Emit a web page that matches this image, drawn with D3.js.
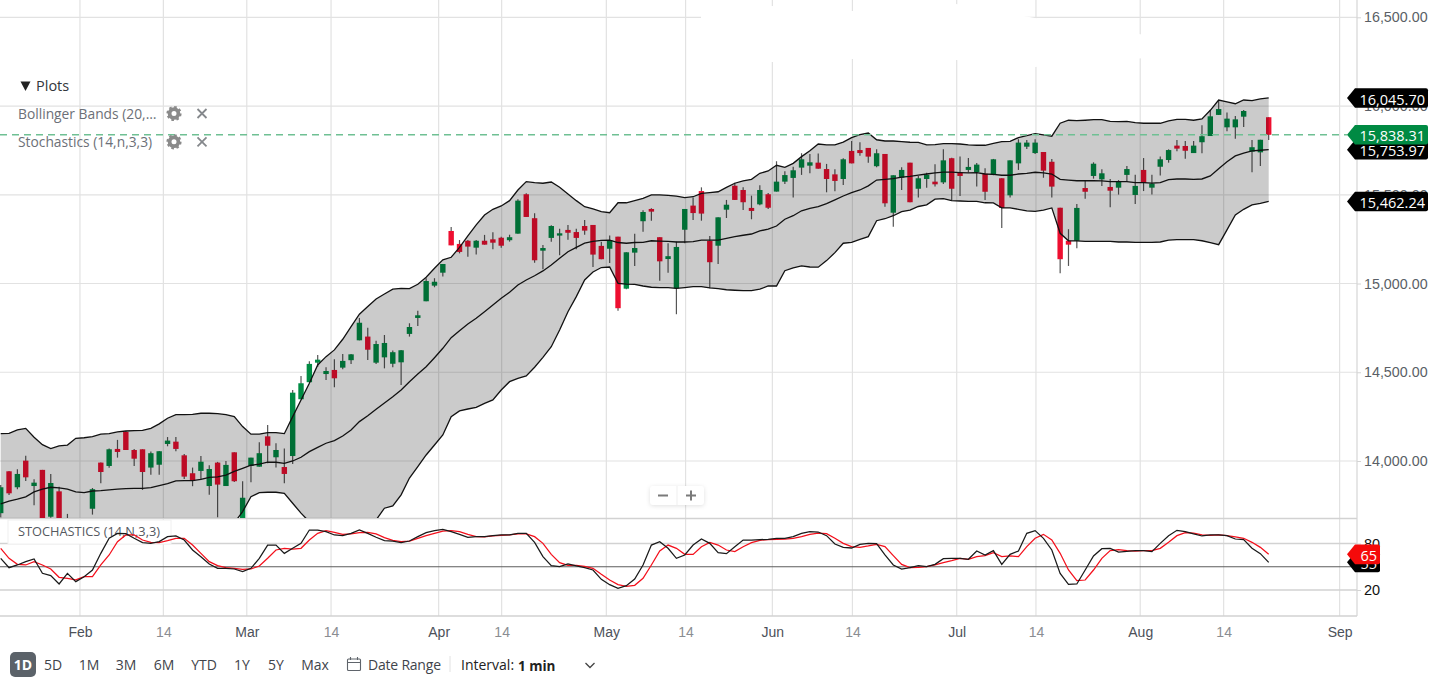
<!DOCTYPE html>
<html>
<head>
<meta charset="utf-8">
<style>
    html, body { margin: 0; padding: 0; background: #fff; overflow: hidden; }
    svg { display: block; font-family: "Open Sans", sans-serif; }
    .grid line { stroke: #e2e2e2; stroke-width: 1.2; }
    .price-axis text { fill: #5a5f66; font-size: 14.3px; }
    .price-axis line { stroke: #d4d4d4; }
    .stoch-axis text { fill: #111; font-size: 14.5px; }
    .stoch-axis line { stroke: #d4d4d4; }
    .date-axis text { font-size: 14px; font-weight: 500; fill: #4c5159; }
    .date-axis text.day { font-weight: 400; fill: #8a8d92; }
    .tool { font-size: 14px; fill: #3f444b; font-weight: 500; }
    .plots { font-size: 13.8px; fill: #6c7077; }
</style>
</head>
<body>
<script src="https://d3js.org/d3.v7.min.js"></script>
<script>

    var opens = [13706,13942,13852,14002,13859,13950,13686,13829,13650,13560,
        13640,13731,13991,13972,14068,14164,14062,14066,13963,13979,
        14096,14109,14032,13931,13944,13859,13991,13859,14049,13668,
        13972,13968,14139,14021,13966,14028,14348,14444,14554,14490,
        14513,14526,14568,14680,14701,14554,14584,14548,14556,14716,
        14806,14900,14988,15061,15296,15223,15241,15202,15241,15249,
        15258,15244,15281,15503,15368,15185,15257,15270,15302,15290,
        15324,15330,15212,15196,15264,14971,15174,15351,15420,15261,
        15138,14973,15303,15439,15521,15240,15213,15416,15551,15527,
        15426,15446,15503,15518,15574,15595,15653,15664,15681,15645,
        15615,15589,15747,15752,15764,15661,15730,15399,15596,15681,
        15534,15589,15574,15570,15706,15625,15640,15628,15619,15613,
        15593,15497,15677,15771,15735,15741,15686,15427,15241,15241,
        15538,15606,15587,15544,15540,15612,15499,15640,15540,15658,
        15696,15777,15775,15735,15796,15831,15950,15880,15880,15940,
        15743,15739,15937];

    var closes = [13852,13818,13927,13908,13878,13640,13876,13611,13600,13630,
        13560,13841,13938,14066,14051,14062,14013,13938,14044,14055,
        14115,14068,13912,13888,13996,13955,13867,13978,13886,13793,
        14019,14044,14086,14062,13927,14385,14438,14547,14571,14507,
        14466,14564,14601,14779,14627,14659,14665,14613,14624,14755,
        14821,15014,15010,15110,15215,15178,15208,15241,15219,15230,
        15213,15261,15467,15375,15131,15200,15324,15283,15286,15257,
        15298,15163,15137,15244,14861,15176,15200,15403,15405,15125,
        15154,15206,15420,15397,15394,15120,15373,15444,15471,15458,
        15409,15527,15427,15574,15611,15638,15700,15683,15647,15589,
        15578,15700,15677,15735,15715,15734,15452,15610,15640,15458,
        15593,15613,15559,15694,15534,15606,15657,15670,15517,15700,
        15426,15694,15794,15794,15794,15636,15546,15137,15219,15426,
        15517,15675,15621,15523,15572,15645,15550,15568,15563,15700,
        15752,15760,15748,15777,15830,15942,15983,15929,15925,15972,
        15768,15810,15838];

    var highs = [13865,13944,13953,14030,13897,13950,13927,13855,13702,13650,
        13660,13848,13991,14070,14119,14169,14068,14066,14053,14057,
        14135,14135,14040,13963,14028,13976,13995,14000,14049,13886,
        14019,14106,14203,14100,14070,14400,14479,14562,14597,14528,
        14573,14603,14603,14806,14751,14678,14710,14622,14626,14776,
        14847,15030,15030,15110,15319,15245,15245,15245,15274,15289,
        15264,15275,15475,15508,15396,15217,15328,15309,15330,15309,
        15358,15330,15236,15270,15264,15176,15281,15413,15424,15261,
        15227,15236,15420,15484,15542,15268,15373,15471,15568,15542,
        15495,15553,15510,15689,15632,15658,15734,15730,15732,15674,
        15644,15706,15803,15796,15764,15756,15730,15610,15655,15681,
        15606,15624,15672,15756,15709,15715,15707,15679,15649,15702,
        15593,15694,15813,15809,15813,15741,15702,15427,15306,15448,
        15583,15683,15644,15589,15583,15662,15613,15707,15613,15715,
        15756,15809,15803,15803,15892,15978,16034,15963,15944,15978,
        15809,15810,15937];

    var lows = [13682,13808,13841,13888,13751,13611,13680,13590,13570,13530,
        13540,13698,13875,13962,14019,14062,13972,13837,13923,13923,
        14083,14055,13899,13858,13897,13810,13683,13859,13882,13640,
        13880,13968,13987,13963,13875,13983,14348,14444,14531,14457,
        14415,14517,14547,14680,14569,14547,14522,14528,14428,14701,
        14761,14900,14979,15039,15215,15170,15151,15163,15219,15193,
        15202,15236,15281,15375,15117,15080,15236,15159,15247,15193,
        15275,15093,15137,15116,14847,14968,15099,15292,15354,15016,
        15061,14827,15227,15358,15354,14973,15110,15369,15471,15414,
        15362,15441,15420,15518,15561,15484,15612,15621,15647,15514,
        15520,15555,15677,15720,15681,15655,15433,15320,15527,15458,
        15484,15540,15546,15561,15471,15493,15625,15546,15471,15610,
        15313,15484,15640,15758,15730,15596,15484,15058,15099,15199,
        15478,15591,15550,15430,15501,15574,15448,15521,15501,15608,
        15681,15745,15703,15735,15734,15831,15950,15858,15816,15882,
        15627,15662,15809];

    var upperBand = [14154,14156,14175,14184,14134,14092,14070,14085,14090,14128,
        14131,14137,14151,14154,14164,14169,14171,14173,14184,14209,
        14241,14261,14261,14263,14269,14269,14267,14261,14250,14194,
        14151,14151,14160,14160,14154,14250,14344,14438,14541,14588,
        14626,14686,14757,14827,14870,14913,14941,14968,14973,14971,
        14996,15035,15086,15133,15148,15204,15268,15330,15386,15418,
        15437,15467,15527,15574,15568,15565,15572,15542,15505,15467,
        15433,15420,15405,15399,15455,15455,15467,15480,15499,15499,
        15497,15493,15484,15489,15508,15512,15517,15542,15565,15578,
        15587,15621,15634,15666,15655,15677,15715,15748,15786,15781,
        15781,15797,15822,15839,15848,15810,15803,15803,15799,15796,
        15795,15781,15783,15788,15788,15786,15781,15779,15779,15790,
        15799,15801,15822,15833,15844,15837,15830,15903,15920,15918,
        15920,15923,15923,15914,15912,15914,15906,15903,15903,15903,
        15916,15925,15925,15920,15927,15976,16034,16023,16013,16034,
        16030,16040,16045.70];

    var midBand = [13759,13774,13785,13798,13826,13842,13852,13848,13841,13826,
        13822,13831,13833,13837,13841,13844,13846,13846,13850,13861,
        13872,13888,13889,13889,13897,13908,13910,13921,13942,13959,
        13976,13982,13993,13993,13987,14000,14021,14053,14077,14100,
        14115,14141,14175,14222,14255,14291,14327,14362,14400,14447,
        14490,14531,14582,14635,14695,14734,14772,14804,14841,14879,
        14917,14951,14992,15020,15044,15071,15104,15142,15179,15204,
        15227,15237,15243,15244,15231,15227,15231,15232,15241,15239,
        15238,15234,15234,15236,15245,15244,15245,15255,15264,15272,
        15279,15296,15307,15324,15362,15382,15410,15424,15433,15450,
        15471,15493,15512,15527,15550,15583,15587,15591,15600,15604,
        15611,15617,15623,15628,15628,15625,15623,15625,15617,15615,
        15610,15610,15617,15621,15627,15623,15617,15587,15583,15579,
        15579,15579,15578,15574,15574,15574,15568,15568,15566,15568,
        15585,15589,15589,15587,15589,15606,15647,15686,15719,15735,
        15747,15751,15753.97];

    var lowerBand = [13364,13392,13392,13409,13516,13595,13634,13611,13589,13521,
        13510,13527,13516,13521,13516,13521,13521,13521,13516,13516,
        13504,13516,13516,13516,13527,13550,13555,13583,13651,13715,
        13799,13822,13824,13824,13818,13762,13706,13658,13614,13611,
        13606,13595,13595,13617,13640,13668,13734,13747,13809,13904,
        13968,14034,14090,14147,14250,14282,14293,14302,14325,14344,
        14400,14447,14466,14479,14528,14584,14644,14738,14841,14926,
        15020,15065,15090,15093,15001,14997,14995,14986,14979,14977,
        14977,14973,14977,14982,14982,14975,14971,14965,14962,14960,
        14960,14968,14986,14986,15072,15088,15099,15093,15092,15129,
        15174,15227,15232,15249,15264,15354,15365,15382,15405,15414,
        15434,15443,15475,15478,15467,15465,15463,15463,15455,15454,
        15426,15426,15418,15409,15407,15414,15426,15283,15241,15240,
        15238,15238,15238,15238,15234,15234,15232,15232,15232,15234,
        15245,15247,15247,15247,15241,15230,15219,15302,15386,15418,
        15443,15452,15462.24];

    var stochK = [60.9,48.8,52.3,56.6,60,41.5,38.5,27.8,41.5,30.8,
        37.2,45.8,67.3,86.7,93.1,92.7,86.7,81.1,80.2,82.4,
        88.8,89.7,84.5,71.6,63,53.6,48,48,47.1,43.7,
        48,60.9,78,78,67.3,73.8,80.2,97.4,97.4,95.3,
        91,90.1,93.1,97.4,93.1,88,83.7,83.2,81.1,83.2,
        88.8,94,96.5,98.3,95.3,91.8,88,88.8,
        88.8,90.1,91,91,93.1,93.1,81.5,63,51.4,50.1,
        53.6,51,48.8,45.8,33.8,26.9,22.2,25.6,34.2,52.3,
        78,82.4,73.8,60.9,65.2,78,85.8,80.2,68.2,66.9,
        75.9,84.5,84.5,85,85.4,86.7,86.7,88.8,93.1,95.3,
        94.8,90.1,79.4,75,74.2,78.9,80.2,79.8,65.2,52.3,
        47.1,48.8,51.4,50.1,53.1,60.4,
        60.9,60.9,59.6,70.3,65.2,70.8,53.1,66,70.3,93.1,
        96.6,86.7,71.6,41.5,27.3,27.8,45.8,63.9,73.3,73.8,
        69,69.9,70.8,70.8,69.5,80.2,90.1,97,95.3,92.3,
        89.7,91,91,90.1,85.8,85,73.8,66.9,55.7];

    var stochD = [73.8,60.9,53.1,52.3,56.6,52.3,47.1,36.4,35.1,33,
        37.2,37.2,52.3,65.2,82.4,91,91,84.5,81.5,81.1,
        83.7,86.7,86.7,78,67.3,56.6,51.4,48.8,48,46.7,
        47.1,51,60.9,71.6,73.8,72.9,73.8,84.5,93.1,96.6,
        94.4,91.8,92.3,94,94.4,92.3,87.5,84.1,82.4,83.2,
        86.7,90.1,93.1,96.1,96.6,95.3,91.8,88.8,
        88.4,89.7,90.5,91,92.3,92.3,88.8,80.2,66,55.3,
        51.8,51.8,50.5,48,40.2,33,26.9,24.7,26,35.1,
        52.3,70.3,78,73.8,66,66,75.9,81.5,78,71.6,
        69.5,75.9,81.1,84.1,85,85.4,85.8,86.7,88.8,91.8,
        93.5,92.7,86.7,80.2,75.9,75,76.8,78.9,75.9,64.3,
        53.1,48.8,49.3,50.1,52.3,55.3,
        57.9,60.9,59.6,63,64.3,68.2,63,63.9,63,75.9,
        86.7,91.8,84.5,67.3,45.8,32,32.9,45.8,60.9,70.8,
        72,70.8,70.3,70.8,70.8,73.8,81.5,90.1,94,93.5,
        91,90.5,91,90.1,88.4,86.7,81.5,75,66];

    // date labels sit between candles, so their place is given in candle units
    var dateLabels = ["Feb","14","Mar","14","Apr","14","May","14","Jun","14","Jul","14","Aug","14","Sep"];
    var dateIndex = [9.5,19.5,29.5,39.6,52.5,60.05,72.6,82.1,92.5,102.1,114.6,124.1,136.6,146.6,160.5];

    var priceTicks = [14000,14500,15000,15500,16000,16500];
    var stochTicks = [20,80];
    var stochEdges = [112.3,-13.5];
    var bandTags = [16045.70,15753.97,15462.24];
    var lastPrice = 15838.31;

    var toolbarRanges = ["5D","1M","3M","6M","YTD","1Y","5Y","Max"];
    var plotNames = ["Bollinger Bands (20,\u2026","Stochastics (14,n,3,3)"];

    var width = 1429,
        height = 678,
        axisX = 1357,
        mainBottom = 518,
        stochBottom = 616,
        candleWidth = 5.4;

    var x = d3.scaleLinear().domain([0,152]).range([0.7,1268.7]);
    var y = d3.scaleLinear().domain([14000,16500]).range([461,17.3]);
    var yStoch = d3.scaleLinear().domain([20,80]).range([590,543.5]);

    var svg = d3.select("body").append("svg")
        .attr("width", width)
        .attr("height", height);

    svg.append("clipPath").attr("id", "main-clip")
      .append("rect").attr("width", axisX).attr("height", mainBottom);

    // gridlines
    var grid = svg.append("g").attr("class", "grid");
    grid.selectAll(".v").data(dateIndex).enter().append("line")
        .attr("x1", function(d) {return x(d)})
        .attr("x2", function(d) {return x(d)})
        .attr("y1", 0)
        .attr("y2", stochBottom);
    grid.selectAll(".h").data(priceTicks).enter().append("line")
        .attr("class", "h")
        .attr("x1", 0)
        .attr("x2", axisX)
        .attr("y1", function(d) {return y(d)})
        .attr("y2", function(d) {return y(d)});

    // the whited out patch at the top of the screenshot
    svg.append("path")
        .attr("d", "M701 13L772 6L852 11L956 4L1035 18L1145 35L1145 58L1035 67L956 60L852 59L772 62L701 60Z")
        .attr("fill", "#fff");

    grid.selectAll(".s").data(stochTicks.concat(stochEdges)).enter().append("line")
        .attr("x1", 0)
        .attr("x2", axisX)
        .attr("y1", function(d) {return yStoch(d)})
        .attr("y2", function(d) {return yStoch(d)})
        .style("stroke-width", 1.5)
        .style("stroke", "#d2d2d2");

    svg.append("line")
        .attr("x1", axisX).attr("x2", axisX)
        .attr("y1", 0).attr("y2", stochBottom)
        .attr("stroke", "#d6d6d6").attr("stroke-width", 1.2);

    // candles
    var main = svg.append("g").attr("clip-path", "url(#main-clip)");
    var idx = d3.range(opens.length);

    main.append("g").selectAll("line").data(idx).enter().append("line")
        .attr("x1", function(i) {return x(i)})
        .attr("x2", function(i) {return x(i)})
        .attr("y1", function(i) {return y(highs[i])})
        .attr("y2", function(i) {return y(lows[i])})
        .attr("stroke", "#565656")
        .attr("stroke-width", 1.2);

    main.append("g").selectAll("rect").data(idx).enter().append("rect")
        .attr("x", function(i) {return x(i) - candleWidth/2})
        .attr("width", candleWidth)
        .attr("y", function(i) {return y(Math.max(opens[i], closes[i]))})
        .attr("height", function(i) {return Math.abs(y(opens[i]) - y(closes[i]))})
        .attr("fill", function(i) {return closes[i] >= opens[i] ? "#008c44" : "#ee0f30"});

    // bollinger band lies over the candles, that is what darkens them
    main.append("path")
        .attr("d", d3.area()
            .x(function(i) {return x(i)})
            .y0(function(i) {return y(lowerBand[i])})
            .y1(function(i) {return y(upperBand[i])})(idx))
        .attr("fill", "rgba(0,0,0,0.205)");

    [upperBand, midBand, lowerBand].forEach(function(band) {
        main.append("path")
            .attr("d", d3.line()
                .x(function(i) {return x(i)})
                .y(function(i) {return y(band[i])})(idx))
            .attr("fill", "none")
            .attr("stroke", "#111")
            .attr("stroke-width", 1.3);
    });

    // last price
    svg.append("line")
        .attr("x1", 0).attr("x2", 1347)
        .attr("y1", y(lastPrice)).attr("y2", y(lastPrice))
        .attr("stroke", "#6fc093")
        .attr("stroke-width", 1.3)
        .attr("stroke-dasharray", "7,5");

    // stochastics panel
    svg.append("rect")
        .attr("x", 8).attr("y", 520).attr("width", 163).attr("height", 24)
        .attr("fill", "#fff").attr("stroke", "#f0f0f0");
    svg.append("text")
        .attr("x", 18).attr("y", 535.5)
        .attr("font-size", 12.8)
        .attr("fill", "#55595f")
        .text("STOCHASTICS (14,N,3,3)");

    svg.append("line")
        .attr("x1", 0).attr("x2", axisX)
        .attr("y1", yStoch(50)).attr("y2", yStoch(50))
        .attr("stroke", "#5c5c5c").attr("stroke-width", 1.2);

    [[stochD, "#f4101c"], [stochK, "#1a1a1a"]].forEach(function(s) {
        svg.append("path")
            .attr("d", d3.line()
                .x(function(i) {return x(i)})
                .y(function(i) {return yStoch(s[0][i])})(idx))
            .attr("fill", "none")
            .attr("stroke", s[1])
            .attr("stroke-width", 1.25);
    });

    // axes
    var priceAxis = svg.append("g")
        .attr("class", "price-axis")
        .attr("transform", "translate(" + axisX + ",0)")
        .call(d3.axisRight(y).tickValues(priceTicks).tickFormat(d3.format(",.2f")).tickSize(4).tickPadding(3));
    priceAxis.select(".domain").remove();

    var stochAxis = svg.append("g")
        .attr("class", "stoch-axis")
        .attr("transform", "translate(" + axisX + ",0)")
        .call(d3.axisRight(yStoch).tickValues(stochTicks).tickSize(4).tickPadding(3));
    stochAxis.select(".domain").remove();

    var dateAxis = svg.append("g")
        .attr("class", "date-axis")
        .attr("transform", "translate(0," + stochBottom + ")")
        .call(d3.axisBottom(x).tickValues(dateIndex)
            .tickFormat(function(d, n) {return dateLabels[n]})
            .tickSize(0).tickPadding(11));
    dateAxis.select(".domain").remove();
    dateAxis.selectAll("text")
        .classed("day", function(d, n) {return dateLabels[n] == "14"});

    // value tags at the right
    function tag(value, label, fill, right, scale, size) {
        var cy = scale(value), h = 9.8, l = 1347, b = 1355;
        svg.append("path")
            .attr("d", "M" + l + " " + cy + "L" + b + " " + (cy-h) + "H" + (right-2)
                + "Q" + right + " " + (cy-h) + " " + right + " " + (cy-h+2)
                + "V" + (cy+h-2) + "Q" + right + " " + (cy+h) + " " + (right-2) + " " + (cy+h)
                + "H" + b + "Z")
            .attr("fill", fill);
        svg.append("text")
            .attr("x", right - 3).attr("y", cy + 6.6)
            .attr("text-anchor", "end")
            .attr("font-size", size)
            .attr("fill", "#fff")
            .text(label);
    }
    var money = d3.format(",.2f");
    bandTags.forEach(function(v) { tag(v, money(v), "#000", 1428, y, 14.5); });
    tag(lastPrice, money(lastPrice), "#008a43", 1428, y, 14.5);
    tag(stochK[152], "55", "#000", 1380, yStoch, 14.5);
    tag(stochD[152], "65", "#f50a0a", 1380, yStoch, 14.5);

    // plots list
    svg.append("path").attr("d", "M20.5 81.5h10l-5 9.5Z").attr("fill", "#222");
    svg.append("text").attr("x", 36).attr("y", 91).attr("font-size", 14.5).attr("font-weight", 500).attr("fill", "#33363b").text("Plots");

    function gear(cx, cy) {
        svg.append("circle").attr("cx", cx).attr("cy", cy).attr("r", 4.4)
            .attr("fill", "none").attr("stroke", "#8a8a8a").attr("stroke-width", 3.8);
        svg.append("circle").attr("cx", cx).attr("cy", cy).attr("r", 6.6)
            .attr("fill", "none").attr("stroke", "#8a8a8a").attr("stroke-width", 2)
            .attr("stroke-dasharray", "2.6,2.58");
    }
    function cross(cx, cy) {
        svg.append("path")
            .attr("d", "M" + (cx-4.5) + " " + (cy-4.5) + "l9 9M" + (cx+4.5) + " " + (cy-4.5) + "l-9 9")
            .attr("stroke", "#85888c").attr("stroke-width", 1.8).attr("fill", "none");
    }
    plotNames.forEach(function(name, n) {
        var cy = 113.5 + n * 28.3;
        svg.append("text").attr("class", "plots").attr("x", 18).attr("y", cy + 5).text(name);
        gear(174, cy);
        cross(202, cy);
    });

    // zoom buttons
    var zoomBox = svg.append("g").style("filter", "drop-shadow(0 1px 2px rgba(0,0,0,0.12))");
    zoomBox.append("rect").attr("x", 650).attr("y", 486).attr("width", 54).attr("height", 19).attr("rx", 3)
        .attr("fill", "#fff");
    zoomBox.append("line").attr("x1", 677).attr("x2", 677).attr("y1", 486).attr("y2", 505).attr("stroke", "#efefef");
    zoomBox.append("path")
        .attr("d", "M658 495.5h10M686 495.5h10M691 490.5v10")
        .attr("stroke", "#7a7a7a").attr("stroke-width", 2).attr("fill", "none");

    // toolbar
    svg.append("rect").attr("x", 10).attr("y", 652).attr("width", 26).attr("height", 25).attr("rx", 5).attr("fill", "#5b6269");
    svg.append("text").attr("x", 23).attr("y", 670).attr("text-anchor", "middle")
        .attr("font-size", 14).attr("font-weight", 700).attr("fill", "#fff").text("1D");

    var rangeX = [53,89,126,164,204,242,276,315];
    svg.selectAll(".range").data(toolbarRanges).enter().append("text")
        .attr("class", "tool")
        .attr("x", function(d, n) {return rangeX[n]})
        .attr("y", 670)
        .attr("text-anchor", "middle")
        .text(function(d) {return d});

    var cal = svg.append("g").attr("fill", "none").attr("stroke", "#5f646b").attr("stroke-width", 1.1);
    cal.append("rect").attr("x", 347.5).attr("y", 659).attr("width", 13).attr("height", 11.5).attr("rx", 1);
    cal.append("path").attr("d", "M347.5 662.5h13M350.5 657v3M357.5 657v3");

    svg.append("text").attr("class", "tool").attr("x", 368).attr("y", 670).attr("textLength", 73).text("Date Range");
    svg.append("line").attr("x1", 450).attr("x2", 450).attr("y1", 656).attr("y2", 672).attr("stroke", "#e2e2e2");
    svg.append("text").attr("x", 461).attr("y", 670).attr("font-size", 14).attr("font-weight", 500).attr("fill", "#222").text("Interval:");
    svg.append("text").attr("x", 518).attr("y", 671).attr("font-size", 13.5).attr("font-weight", 700).attr("fill", "#222").text("1 min");
    svg.append("path").attr("d", "M585.5 663l4.5 4.5l4.5-4.5").attr("fill", "none").attr("stroke", "#444").attr("stroke-width", 1.3);

</script>
</body>
</html>
